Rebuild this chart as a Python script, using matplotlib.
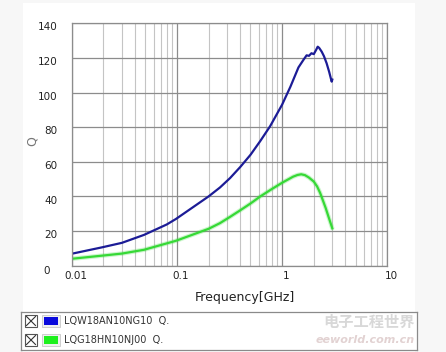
import matplotlib
matplotlib.use("Agg")
import matplotlib.pyplot as plt
from matplotlib.patches import Rectangle
import numpy as np

# curve data (frequency in GHz, Q)
freq_a = [0.01, 0.0194, 0.03, 0.0487, 0.08, 0.098, 0.2, 0.257, 0.32, 0.40, 0.5, 0.62, 0.77,
          1.0, 1.2, 1.43, 1.6, 1.71, 1.8, 1.9, 2.0, 2.1, 2.18, 2.25, 2.38, 2.5, 2.65, 2.8, 2.96, 3.0]
q_a = [6.9, 10.6, 13.2, 17.8, 23.8, 27.0, 40.0, 45.2, 50.6, 57.0, 64.0, 72.0, 80.6,
       93.0, 103.4, 114.5, 119, 121.5, 121.2, 122.7, 122.2, 124.5, 126.5, 125.8, 123.6, 121, 116.9, 112, 106.3, 107.5]
freq_b = [0.01, 0.0194, 0.03, 0.0487, 0.098, 0.2, 0.257, 0.32, 0.40, 0.5, 0.62, 0.8,
          1.0, 1.27, 1.4, 1.52, 1.65, 1.8, 2.0, 2.15, 2.3, 2.45, 2.6, 2.75, 3.0]
q_b = [4.0, 5.8, 7.0, 9.2, 14.4, 21.3, 24.6, 28.2, 32.0, 35.9, 40.0, 44.3,
       47.9, 51.4, 52.4, 52.8, 52.3, 50.9, 48.6, 45.8, 42.0, 37.5, 33.2, 28.6, 21.6]

names = ["LQW18AN10NG10  Q.", "LQG18HN10NJ00  Q."]
line_colors = ["#1c1c96", "#36d936"]
swatch_colors = ["#0a0adc", "#1ef01e"]
yticks = [0, 20, 40, 60, 80, 100, 120, 140]
xticks = [0.01, 0.1, 1, 10]
xticklabels = ["0.01", "0.1", "1", "10"]

W, H = 446, 352
fig = plt.figure(figsize=(W / 100, H / 100), dpi=100, facecolor="#f7f7f7")

# white panel behind everything
bg = fig.add_axes([23 / W, 0, (415 - 23) / W, 1 - 3 / H], zorder=-1)
bg.set_facecolor("white")
bg.set_xticks([])
bg.set_yticks([])
for s in bg.spines.values():
    s.set_visible(False)

ax = fig.add_axes([71.7 / W, 1 - 265.7 / H, (387.3 - 71.7) / W, (265.7 - 23.3) / H])
ax.set_facecolor("white")
ax.set_xscale("log")
ax.set_xlim(0.01, 10)
ax.set_ylim(0, 140)

ax.grid(True, which="major", axis="both", color="#8c8c8c", lw=0.9)
ax.grid(True, which="minor", axis="x", color="#c4c4c4", lw=0.8)
for s in ax.spines.values():
    s.set_color("#8c8c8c")
    s.set_linewidth(0.9)

ax.set_yticks(yticks)
ax.set_yticklabels([""] * len(yticks))
ax.set_xticks(xticks)
ax.set_xticklabels([""] * len(xticks))
ax.tick_params(which="both", length=0)

# tick labels placed like the reference (slightly offset)
for v in yticks:
    dy = -4 if v == 0 else -3
    ax.annotate(str(v), xy=(0, v), xycoords=("axes fraction", "data"),
                xytext=(-10 if v else -16, dy), textcoords="offset points",
                ha="right", va="center", fontsize=7.5, color="#222222")
for v, t in zip(xticks, xticklabels):
    ax.annotate(t, xy=(v, 0), xycoords=("data", "axes fraction"),
                xytext=(3, -4), textcoords="offset points",
                ha="center", va="top", fontsize=7.5, color="#222222")

ax.text(-0.125, 0.515, "Q", transform=ax.transAxes, rotation=90,
        ha="center", va="center", fontsize=9, color="#777777")
ax.text(0.55, -0.13, "Frequency[GHz]", transform=ax.transAxes,
        ha="center", va="center", fontsize=9, color="#222222")

# green glow then lines
ax.plot(freq_b, q_b, color=line_colors[1], lw=3.2, alpha=0.25, solid_capstyle="round")
ax.plot(freq_b, q_b, color=line_colors[1], lw=1.6)
ax.plot(freq_a, q_a, color=line_colors[0], lw=1.6)

# legend panel
lg = fig.add_axes([21 / W, 1 - 350 / H, (417 - 21) / W, (350 - 312) / H])
lg.set_xlim(21, 417)
lg.set_ylim(350, 312)
lg.set_facecolor("white")
lg.set_xticks([])
lg.set_yticks([])
for s in lg.spines.values():
    s.set_color("#8a8a8a")
    s.set_linewidth(0.9)
for i, (nm, sc) in enumerate(zip(names, swatch_colors)):
    yc = 321 + i * 19
    lg.add_patch(Rectangle((25, yc - 6), 12, 12, facecolor="white", edgecolor="#555555", lw=0.8))
    lg.plot([26.5, 35.5], [yc - 4.5, yc + 4.5], color="#333333", lw=0.8)
    lg.plot([26.5, 35.5], [yc + 4.5, yc - 4.5], color="#333333", lw=0.8)
    lg.add_patch(Rectangle((42, yc - 6), 18, 12, facecolor="#f0f0f0", edgecolor="#c8c8c8", lw=0.6))
    lg.add_patch(Rectangle((43.5, yc - 4.5), 14, 8, facecolor=sc, edgecolor="none"))
    lg.text(64, yc, nm, ha="left", va="center", fontsize=7, color="#333333")

# faint watermark
fig.text(0.93, 1 - 322 / H, "电子工程世界", family=["Noto Sans CJK SC", "DejaVu Sans"],
         fontsize=11, color="#d8d8d8", ha="right", va="center", weight="bold")
fig.text(0.93, 1 - 340 / H, "eeworld.com.cn", fontsize=8, color="#e2d2d2",
         ha="right", va="center", style="italic", weight="bold")

fig.savefig("out.png", dpi=100, facecolor=fig.get_facecolor())
